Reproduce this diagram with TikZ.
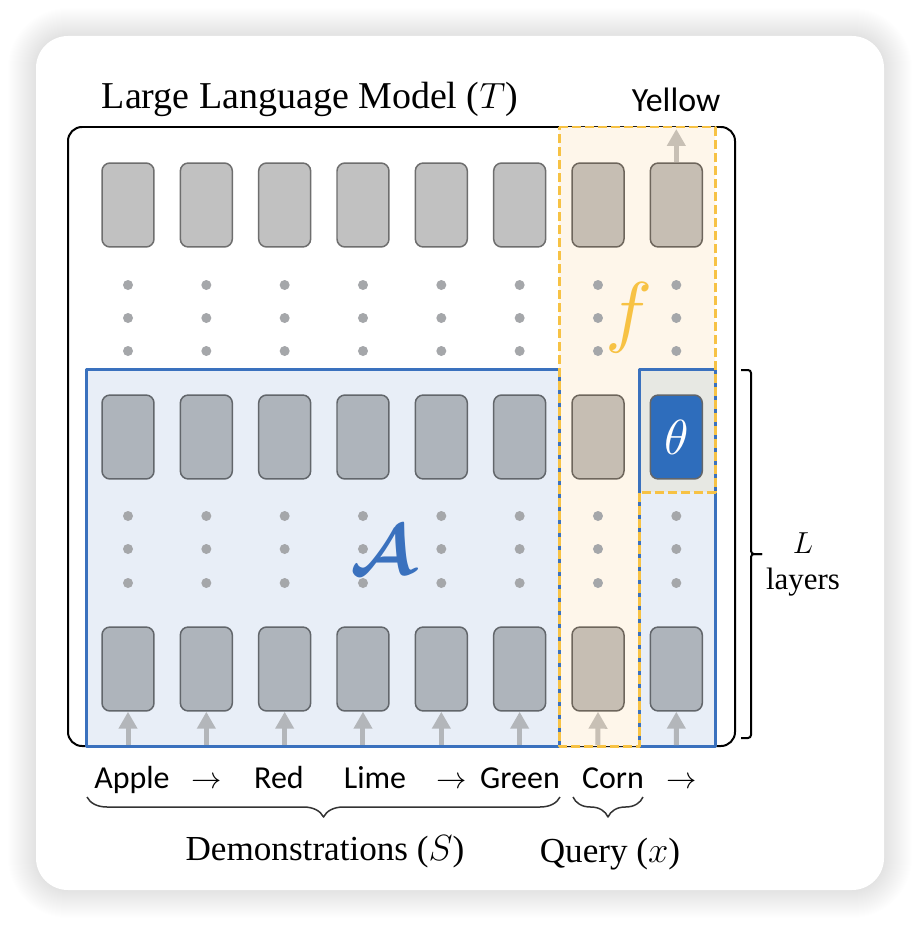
\documentclass[tikz,border=0pt]{standalone}
\usepackage{fontspec}
\setmainfont{Liberation Serif}
\newfontfamily\tokfont{Carlito}
\usetikzlibrary{arrows.meta,decorations.pathreplacing}
\definecolor{tokgray}{HTML}{C1C1C1}
\definecolor{tokedge}{HTML}{6E6E6E}
\definecolor{blutok}{HTML}{AEB4BB}
\definecolor{bluedge}{HTML}{62666B}
\definecolor{tantok}{HTML}{C6BEB3}
\definecolor{tanedge}{HTML}{6E665C}
\definecolor{thetablue}{HTML}{2E6DBC}
\definecolor{regionblue}{HTML}{E8EEF7}
\definecolor{lineblue}{HTML}{3A71BE}
\definecolor{cream}{HTML}{FEF6EA}
\definecolor{thetabg}{HTML}{E7E8E3}
\definecolor{fyellow}{HTML}{F7C244}
\definecolor{dotgray}{HTML}{A5A7AA}
\definecolor{arrgray}{HTML}{B3B6BA}
\definecolor{arrtan}{HTML}{C8C0B5}
\tikzset{
  tok/.style={draw=tokedge, fill=tokgray, line width=0.03cm, rounded corners=0.16cm,
    minimum width=1.04cm, minimum height=1.68cm, inner sep=0pt},
  blutok/.style={tok, draw=bluedge, fill=blutok},
  tantok/.style={tok, draw=tanedge, fill=tantok},
  up/.style={-{Triangle[width=0.36cm,length=0.34cm]}, line width=0.1cm, draw=arrgray},
  word/.style={font=\tokfont\fontsize{18.2}{22}\selectfont, anchor=base},
  serif/.style={font=\fontsize{20}{24}\selectfont, anchor=base}
}
\begin{document}
\begin{tikzpicture}[x=0.02cm, y=-0.02cm, line join=round]
	\useasboundingbox[fill=white] (0,0) rectangle (920,926);
	\foreach \s in {1,...,28}{
		\pgfmathsetmacro\rr{0.64+0.02*\s}
		\fill[black, opacity=0.0042, rounded corners=\rr cm] ({36-\s},{36-\s}) rectangle ({884+\s},{890+\s});
	}
	\fill[white, rounded corners=0.64cm] (36,36) rectangle (884,890);
	\draw[line width=0.04cm, rounded corners=0.28cm] (68,127) rectangle (735,746);
	\fill[regionblue] (86,369) rectangle (559,746) (639,369) rectangle (715,746);
	\fill[cream] (559,127) -- (715,127) -- (715,492) -- (639,492) -- (639,746) -- (559,746) -- cycle;
	\fill[thetabg] (639,369) rectangle (715,492);
	\draw[lineblue, line width=0.06cm] (86,369) rectangle (559,746) (639,369) rectangle (715,746);
	\draw[fyellow, line width=0.06cm, dash pattern=on 0.18cm off 0.08cm]
		(559,127) -- (715,127) -- (715,492) -- (639,492) -- (639,746) -- (559,746) -- cycle;
	\foreach \i in {1,...,8}{
		\pgfmathsetmacro\cx{128+78.33*(\i-1)}
		\foreach \y in {285,318,351,516,549,583}
			\fill[dotgray] (\cx,\y) circle (0.1cm);
		\coordinate (in-\i) at (\cx,745);
	}
	\foreach \i in {1,...,6}{
		\pgfmathsetmacro\cx{128+78.33*(\i-1)}
		\node[tok] (top-\i) at (\cx,205) {};
		\node[blutok] (mid-\i) at (\cx,437) {};
		\node[blutok] (bot-\i) at (\cx,669) {};
		\draw[up] (in-\i) -- (bot-\i.south);
	}
	\node[tantok] (top-7) at (598,205) {};
	\node[tantok] (mid-7) at (598,437) {};
	\node[tantok] (bot-7) at (598,669) {};
	\node[tantok] (top-8) at (676.3,205) {};
	\node[tok, draw=bluedge, fill=thetablue, text=white] (mid-8) at (676.3,437) {\scalebox{2.8}{$\theta$}};
	\node[blutok] (bot-8) at (676.3,669) {};
	\draw[up, draw=arrtan] (in-7) -- (bot-7.south);
	\draw[up] (in-8) -- (bot-8.south);
	\coordinate (out) at (676.3,129);
	\draw[up, draw=arrtan] (top-8.north) -- (out);
	\node[text=lineblue] (algo) at (383,550) {\scalebox{4}{\boldmath$\mathcal{A}$}};
	\node[text=fyellow] (func) at (629,318) {\scalebox{4.5}{$f$}};
	\node[font=\fontsize{21.6}{26}\selectfont, anchor=base] (llm) at (310,109) {Large Language Model ($T$)};
	\node[word, font=\tokfont\fontsize{19.3}{22}\selectfont] (yellow) at (676,112) {Yellow};
	\node[word] (w1) at (132,788) {Apple};
	\node[word] (a1) at (207,788) {$\rightarrow$};
	\node[word] (w2) at (279,788) {Red};
	\node[word] (w3) at (375,788) {Lime};
	\node[word] (a2) at (452,788) {$\rightarrow$};
	\node[word] (w4) at (520,788) {Green};
	\node[word] (w5) at (613,788) {Corn};
	\node[word] (a3) at (682,788) {$\rightarrow$};
	\coordinate (dl) at (87,797); \coordinate (dr) at (560,797);
	\coordinate (ql) at (573,797); \coordinate (qr) at (643,797);
	\draw[line width=0.03cm, black!80, decorate, decoration={brace, mirror, amplitude=0.4cm}] (dl) -- (dr);
	\draw[line width=0.03cm, black!80, decorate, decoration={brace, mirror, amplitude=0.4cm}] (ql) -- (qr);
	\node[serif] (demo) at (325,860) {Demonstrations ($S$)};
	\node[serif] (query) at (610,862) {Query ($x$)};
	\draw[line width=0.04cm, rounded corners=0.06cm] (741,370) -- (751,370) -- (751,554) -- (762,554);
	\draw[line width=0.04cm, rounded corners=0.06cm] (762,554) -- (751,554) -- (751,738) -- (741,738);
	\node[font=\fontsize{17.6}{20}\selectfont, anchor=base] (nl) at (803,553) {$L$};
	\node[font=\fontsize{17.6}{20}\selectfont, anchor=base] (layers) at (803,589) {layers};
\end{tikzpicture}
\end{document}
